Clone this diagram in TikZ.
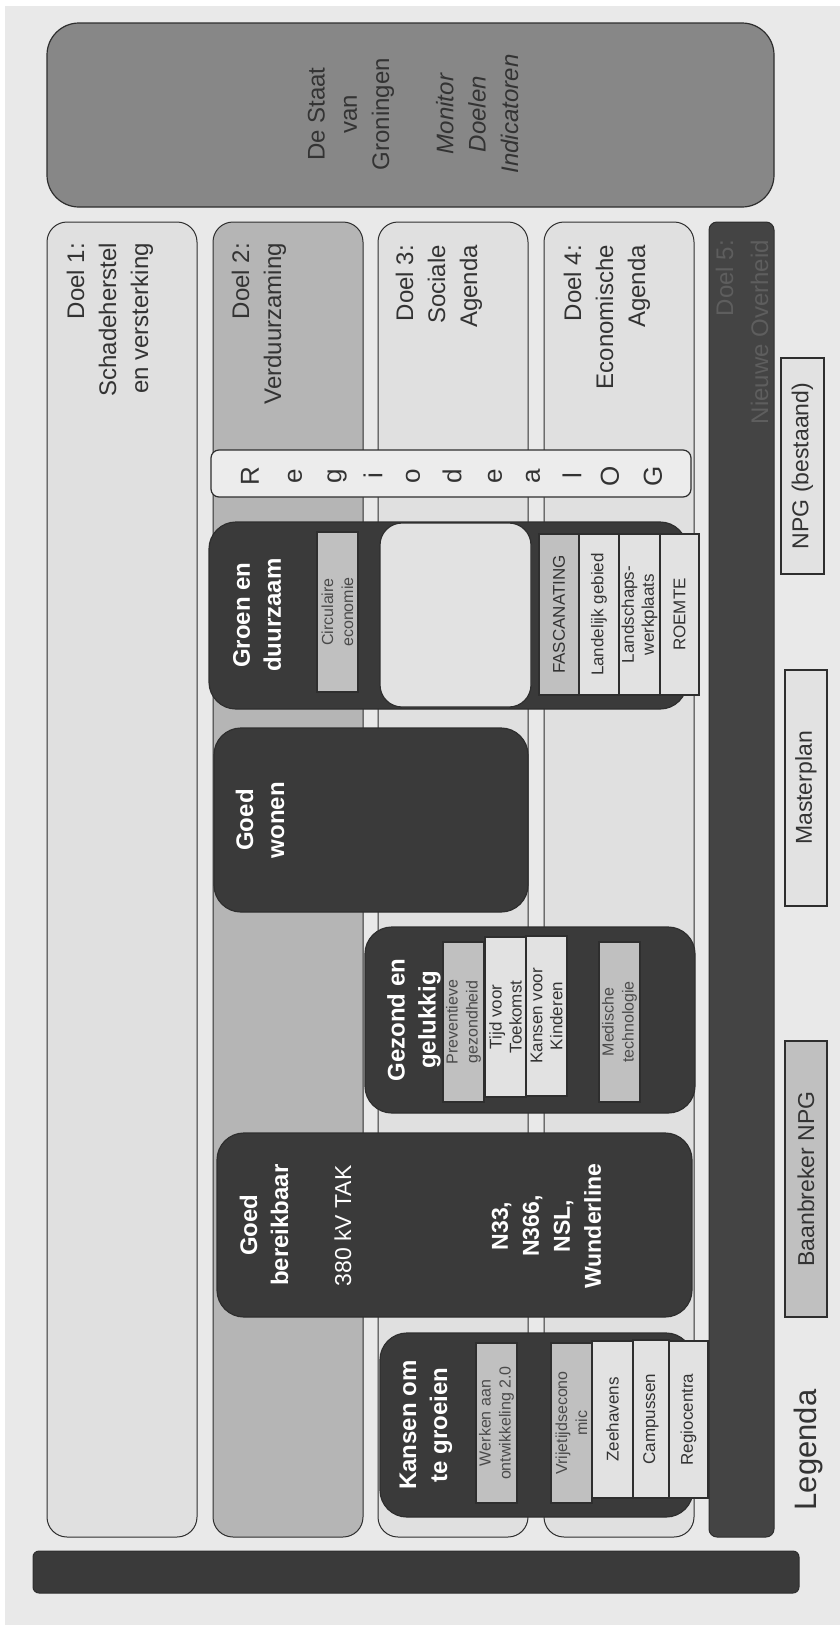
\documentclass[tikz,border=0pt]{standalone}
\usepackage{fontspec}
\setmainfont{Liberation Sans}
\definecolor{bgc}{HTML}{E9E9E9}
\definecolor{colc}{HTML}{E0E0E0}
\definecolor{coltwo}{HTML}{B5B5B5}
\definecolor{darkc}{HTML}{3A3A3A}
\definecolor{barc}{HTML}{444444}
\definecolor{staatc}{HTML}{878787}
\definecolor{midc}{HTML}{C0C0C0}
\definecolor{lightc}{HTML}{E2E2E2}
\definecolor{regc}{HTML}{ECECEC}
\definecolor{linec}{HTML}{2E2E2E}
\definecolor{txtc}{HTML}{333333}
\definecolor{bartxt}{HTML}{5E5E5E}
\definecolor{midtxt}{HTML}{4A4A4A}
\newcommand\fsz[2]{\fontsize{#1}{#2}\selectfont}
\begin{document}
\begin{tikzpicture}[x=1pt,y=-1pt,
  colbox/.style={draw=linec,line width=1pt,rounded corners=20pt},
  darkbox/.style={fill=darkc,draw=linec,line width=1.2pt,rounded corners=27pt},
  tagmid/.style={fill=midc,draw=linec,line width=2pt},
  taglight/.style={fill=lightc,draw=linec,line width=2pt},
  vt/.style={rotate=90,inner sep=0pt,align=center},
  doeltxt/.style={vt,anchor=east,align=right,text=txtc,font=\fsz{24}{32}},
  titletxt/.style={vt,text=white,font=\fsz{24}{31}\bfseries},
  wtxt/.style={vt,text=white,font=\fsz{23}{31}},
  smalltxt/.style={vt,text=txtc,font=\fsz{17}{20}},
  smallmid/.style={vt,text=midtxt,font=\fsz{16}{20}},
  legtxt/.style={vt,text=txtc,font=\fsz{23}{28}},
  regtxt/.style={vt,text=txtc,font=\fsz{26}{28}}
]
\useasboundingbox (0,0) rectangle (840,1625);
\fill[white] (0,0) rectangle (840,1625);
\fill[bgc] (5,6) rectangle (840,1625);

% De Staat van Groningen
\draw[fill=staatc,draw=linec,line width=1.2pt,rounded corners=32pt] (47,23) rectangle (774,207);
\node[vt,text=txtc,font=\fsz{24}{32.3}] (staat) at (413,114)
  {De Staat\\van\\Groningen\\[32pt]\itshape Monitor\\\itshape Doelen\\\itshape Indicatoren};

% Doel columns
\draw[colbox,fill=colc] (47,222) rectangle (197,1537);
\draw[colbox,fill=coltwo] (213,222) rectangle (363,1537);
\draw[colbox,fill=colc] (378,222) rectangle (528,1537);
\draw[colbox,fill=colc] (544,222) rectangle (694,1537);
\draw[fill=barc,draw=linec,line width=1pt,rounded corners=8pt] (709,222) rectangle (774,1537);

\node[doeltxt] (d1) at (110,243) {Doel 1:\\Schadeherstel\\en versterking};
\node[doeltxt] (d2) at (259,243) {Doel 2:\\Verduurzaming};
\node[doeltxt] (d3) at (439,245) {Doel 3:\\Sociale\\Agenda};
\node[doeltxt] (d4) at (607,245) {Doel 4:\\Economische\\Agenda};
\node[doeltxt,text=bartxt,font=\fsz{24}{35}] (d5) at (742,240) {Doel 5:\\Nieuwe Overheid};

% bottom bar
\draw[fill=darkc,draw=linec,line width=1pt,rounded corners=6pt] (33,1551) rectangle (799,1593);

% Regio deal
\draw[fill=regc,draw=linec,line width=1.2pt,rounded corners=8pt] (211,450) rectangle (691,497);
\foreach \ch/\xx [count=\k] in {R/250,e/295,g/337,i/373,o/413,d/452,e/495,a/533,l/572,O/610,G/653}
  \node[regtxt] (reg\k) at (\xx,476) {\ch};

% Groen en duurzaam
\draw[darkbox] (209,522) rectangle (687,709);
\node[titletxt] (groen) at (257,615) {Groen en\\duurzaam};
\draw[tagmid] (317,532) rectangle (358,692);
\node[smallmid] (circ) at (337.5,612) {Circulaire\\economie};
\draw[fill=lightc,draw=linec,line width=1.2pt,rounded corners=22pt] (380,523) rectangle (531,707);
\draw[tagmid] (539,534) rectangle (579,695);
\node[smalltxt] (fasc) at (559,614.5) {FASCANATING};
\draw[taglight] (579,534) rectangle (619,695);
\node[smalltxt] (land) at (599,614.5) {Landelijk gebied};
\draw[taglight] (619,534) rectangle (660,695);
\node[smalltxt] (lsw) at (639.5,614.5) {Landschaps-\\werkplaats};
\draw[taglight] (660,534) rectangle (699,695);
\node[smalltxt] (roemte) at (679.5,614.5) {ROEMTE};

% Goed wonen
\draw[darkbox] (214,728) rectangle (528,912);
\node[titletxt] (wonen) at (260,820) {Goed\\wonen};

% Gezond en gelukkig
\draw[darkbox] (365,927) rectangle (695,1113);
\node[titletxt] (gezond) at (414,1020) {Gezond en\\gelukkig};
\draw[tagmid] (443,942) rectangle (484,1102);
\node[smallmid] (prev) at (463.5,1022) {Preventieve\\gezondheid};
\draw[taglight] (485,937) rectangle (526,1097);
\node[smalltxt] (tijd) at (505.5,1017) {Tijd voor\\Toekomst};
\draw[taglight] (526,936) rectangle (567,1096);
\node[smalltxt] (kvk) at (546.5,1016) {Kansen voor\\Kinderen};
\draw[tagmid] (599,942) rectangle (640,1102);
\node[smallmid] (med) at (619.5,1022) {Medische\\technologie};

% Goed bereikbaar
\draw[darkbox] (217,1133) rectangle (692,1317);
\node[titletxt] (bereik) at (264,1225) {Goed\\bereikbaar};
\node[wtxt] (tak) at (343,1226) {380 kV TAK};
\node[wtxt,font=\fsz{23}{31}\bfseries] (wegen) at (546.5,1226) {N33,\\N366,\\NSL,\\Wunderline};

% Kansen om te groeien
\draw[darkbox] (380,1333) rectangle (693,1517);
\node[titletxt] (kansen) at (426,1425) {Kansen om\\te groeien};
\draw[tagmid] (476,1343) rectangle (517,1503);
\node[smallmid] (werken) at (496.5,1423) {Werken aan\\ontwikkeling 2.0};
\draw[tagmid] (551,1343) rectangle (592,1503);
\node[smallmid] (vrij) at (571.5,1423) {Vrijetijdsecono\\mic};
\draw[taglight] (592,1341) rectangle (633,1498);
\node[smalltxt] (zee) at (612.5,1419.5) {Zeehavens};
\draw[taglight] (633,1340) rectangle (669,1498);
\node[smalltxt] (camp) at (651,1419) {Campussen};
\draw[taglight] (669,1341) rectangle (708,1498);
\node[smalltxt] (regio) at (688.5,1419.5) {Regiocentra};

% Legenda
\draw[taglight] (781,358) rectangle (824,574);
\node[legtxt] (npg) at (802.5,466) {NPG (bestaand)};
\draw[taglight] (785,670) rectangle (827,906);
\node[legtxt] (master) at (806,788) {Masterplan};
\draw[tagmid] (785,1041) rectangle (827,1317);
\node[legtxt] (baan) at (806,1179) {Baanbreker NPG};
\node[vt,text=txtc,font=\fsz{31}{34}] (legenda) at (808,1450) {Legenda};
\end{tikzpicture}
\end{document}
